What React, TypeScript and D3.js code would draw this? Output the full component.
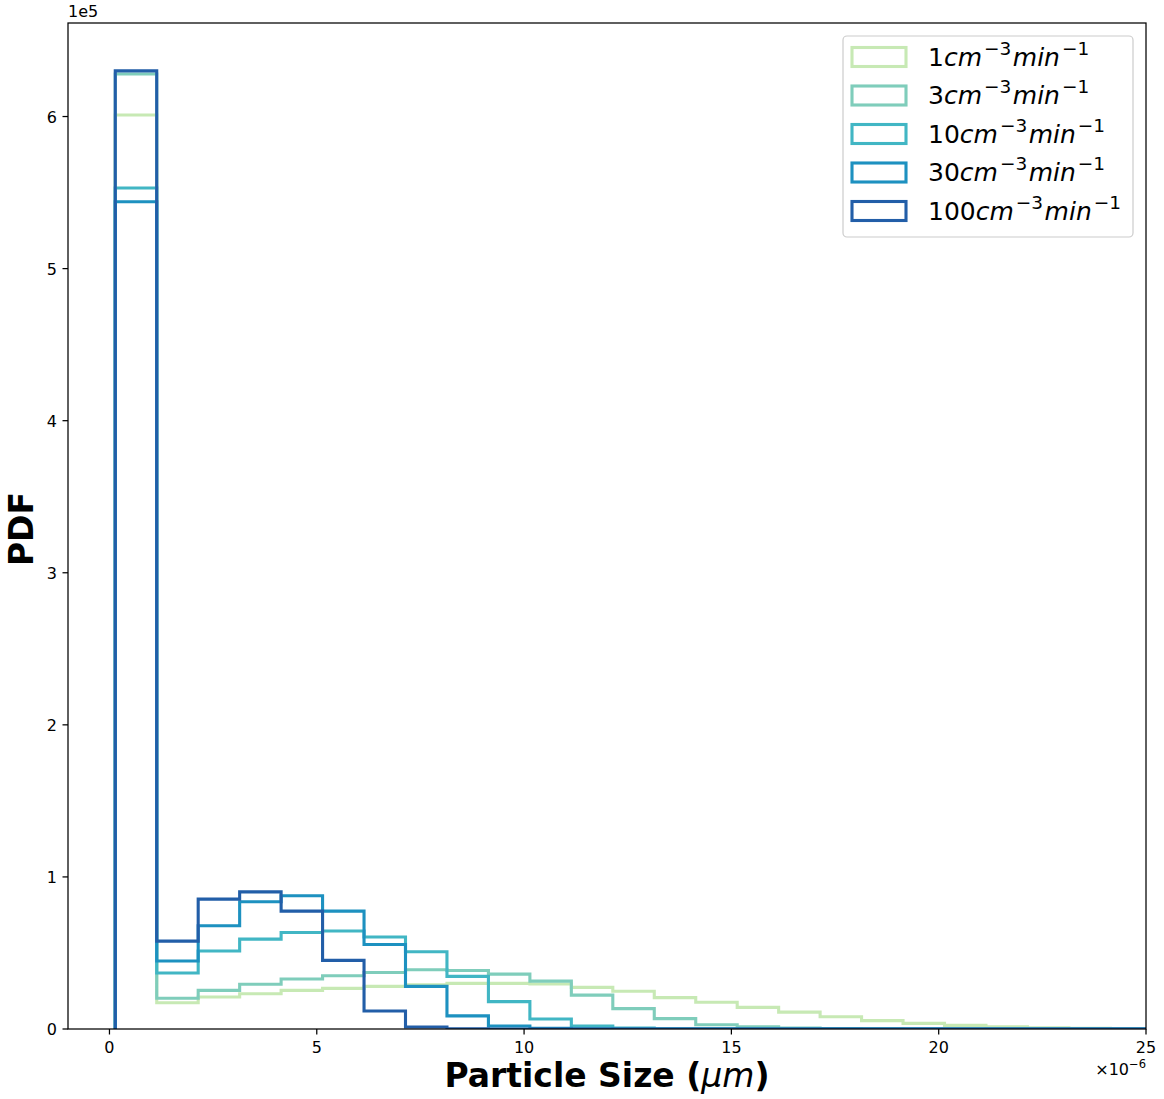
import React from "react";
import * as d3 from "d3";

// Histogram heights (PDF, units of 1e5) per bin; bins of width 1 (units of 1e-6 m) starting at 0.14
const binStart = 0.14;
const binWidth = 1.0;
const pdf1 = [6.01, 0.173, 0.21, 0.232, 0.254, 0.267, 0.28, 0.29, 0.3, 0.3, 0.296, 0.274, 0.248, 0.206, 0.176, 0.142, 0.111, 0.081, 0.055, 0.037, 0.024, 0.015, 0.008, 0.004, 0.002];
const pdf3 = [6.28, 0.202, 0.254, 0.294, 0.329, 0.35, 0.372, 0.39, 0.385, 0.361, 0.315, 0.223, 0.134, 0.068, 0.028, 0.015, 0.006, 0.003, 0.001, 0, 0, 0, 0, 0, 0];
const pdf10 = [5.53, 0.368, 0.513, 0.591, 0.635, 0.644, 0.605, 0.508, 0.346, 0.18, 0.066, 0.02, 0.006, 0.002, 0.001, 0, 0, 0, 0, 0, 0, 0, 0, 0, 0];
const pdf30 = [5.44, 0.447, 0.679, 0.837, 0.876, 0.775, 0.556, 0.28, 0.086, 0.02, 0.005, 0.001, 0, 0, 0, 0, 0, 0, 0, 0, 0, 0, 0, 0, 0];
const pdf100 = [6.3, 0.578, 0.854, 0.902, 0.775, 0.451, 0.118, 0.013, 0.002, 0, 0, 0, 0, 0, 0, 0, 0, 0, 0, 0, 0, 0, 0, 0, 0];

const seriesLabels = ["1", "3", "10", "30", "100"];
const seriesValues = [pdf1, pdf3, pdf10, pdf30, pdf100];
const seriesColors = ["#c7e9b4", "#7fcdbb", "#41b6c4", "#1d91c0", "#225ea8"];

const xTicks = [0, 5, 10, 15, 20, 25];
const yTicks = [0, 1, 2, 3, 4, 5, 6];

const W = 1164;
const H = 1099;
const L = 68, R = 1146, T = 23, B = 1029;
const FONT = "DejaVu Sans";

export default function App() {
  const x = d3.scaleLinear().domain([-1, 25]).range([L, R]);
  const y = d3.scaleLinear().domain([0, 6.615]).range([B, T]);

  const stepPath = (vals: number[]) => {
    const pts: [number, number][] = [];
    const e = (k: number) => binStart + k * binWidth;
    pts.push([e(0), 0]);
    vals.forEach((v, i) => {
      pts.push([e(i), v]);
      pts.push([e(i + 1), v]);
    });
    pts.push([e(vals.length), 0]);
    return d3.line<[number, number]>().x((d) => x(d[0])).y((d) => y(d[1]))(pts) || "";
  };

  const legX = 843, legY = 36, legW = 290, legH = 201;
  const rowY = (i: number) => 57 + i * 38.5;

  return (
    <svg width={W} height={H} style={{ position: "absolute", left: 0, top: 0, background: "#fff" }} fontFamily={FONT}>
      <defs>
        <clipPath id="plotclip">
          <rect x={L} y={T} width={R - L} height={B - T} />
        </clipPath>
      </defs>
      <rect x={0} y={0} width={W} height={H} fill="#fff" />
      <g clipPath="url(#plotclip)">
        {seriesValues.map((vals, i) => (
          <path key={i} d={stepPath(vals)} fill="none" stroke={seriesColors[i]} strokeWidth={3.1} strokeLinejoin="miter" />
        ))}
      </g>
      {/* spines */}
      <rect x={L} y={T} width={R - L} height={B - T} fill="none" stroke="#000" strokeWidth={1.25} />
      {/* x ticks */}
      {xTicks.map((t) => (
        <g key={"x" + t}>
          <line x1={x(t)} x2={x(t)} y1={B} y2={B + 5.5} stroke="#000" strokeWidth={1.25} />
          <text x={x(t)} y={1053} fontSize={16} textAnchor="middle" fill="#000">{t}</text>
        </g>
      ))}
      {/* y ticks */}
      {yTicks.map((t) => (
        <g key={"y" + t}>
          <line x1={L - 5.5} x2={L} y1={y(t)} y2={y(t)} stroke="#000" strokeWidth={1.25} />
          <text x={57} y={y(t) + 6} fontSize={16} textAnchor="end" fill="#000">{t}</text>
        </g>
      ))}
      {/* offset texts */}
      <text x={L} y={17} fontSize={16} fill="#000">1e5</text>
      <text x={R} y={1075} fontSize={16} textAnchor="end" fill="#000">
        ×10<tspan fontSize={11.5} dy={-7}>−6</tspan>
      </text>
      {/* axis labels */}
      <text x={(L + R) / 2} y={1087} fontSize={33} fontWeight="bold" textAnchor="middle" fill="#000">
        Particle Size (<tspan fontWeight="normal" fontStyle="italic">μm</tspan>)
      </text>
      <text transform={`translate(33, ${(T + B) / 2 + 3}) rotate(-90)`} fontSize={33} fontWeight="bold" textAnchor="middle" fill="#000">PDF</text>
      {/* legend */}
      <rect x={legX} y={legY} width={legW} height={legH} rx={4} ry={4} fill="#fff" fillOpacity={0.8} stroke="#cccccc" strokeWidth={1.2} />
      {seriesLabels.map((lab, i) => (
        <g key={"leg" + i}>
          <rect x={852} y={rowY(i) - 9.5} width={54} height={19} fill="none" stroke={seriesColors[i]} strokeWidth={3.1} />
          <text x={928} y={rowY(i) + 8.5} fontSize={25} fill="#000">
            {lab}
            <tspan fontStyle="italic">cm</tspan>
            <tspan fontSize={18.5} dx={2} dy={-11}>−3</tspan>
            <tspan fontStyle="italic" dx={1.5} dy={11}>min</tspan>
            <tspan fontSize={18.5} dx={2} dy={-11}>−1</tspan>
          </text>
        </g>
      ))}
    </svg>
  );
}
